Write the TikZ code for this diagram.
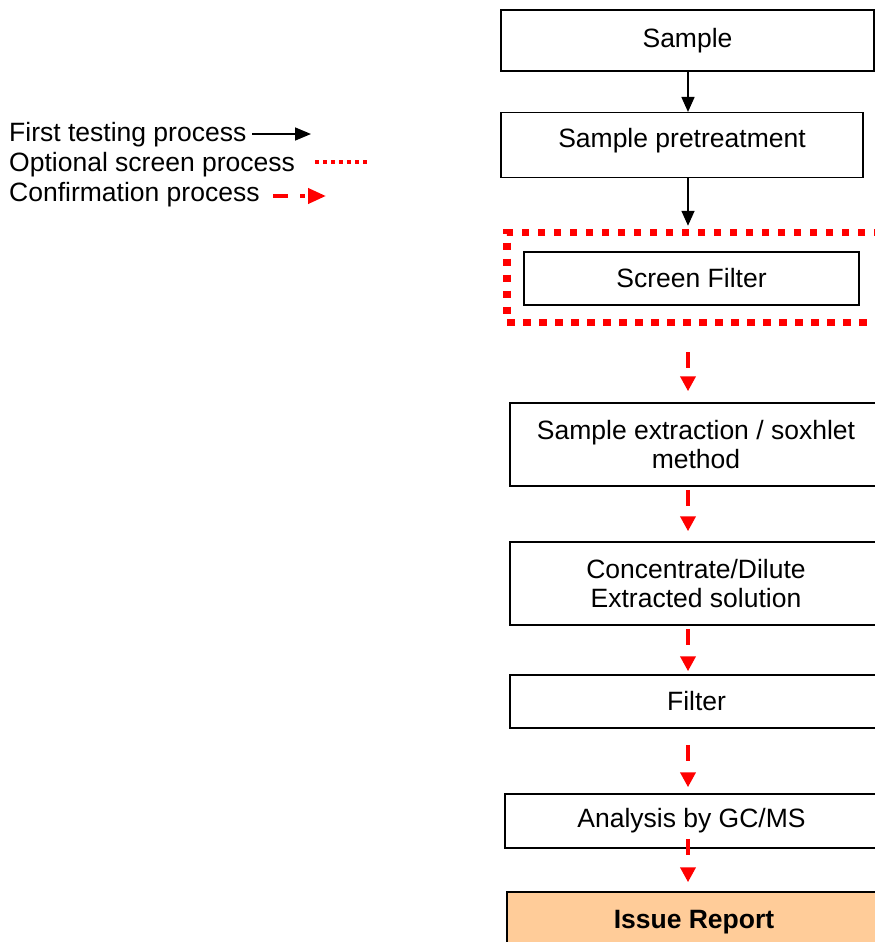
\documentclass[tikz,border=0pt]{standalone}
\usepackage{fontspec}
\setmainfont{Liberation Sans}
\usetikzlibrary{arrows.meta}
\definecolor{peach}{HTML}{FFCC99}
\tikzset{
  box/.style={draw=black, line width=1.5pt, inner sep=0pt, align=center,
    font=\fontsize{26.5}{29}\selectfont},
  lbl/.style={inner sep=0pt, font=\fontsize{26.5}{29}\selectfont},
  blackarr/.style={draw=black, line width=1.6pt, -{Triangle[length=15pt,width=13pt]}},
  redarr/.style={draw=red, line width=4.5pt, dash pattern=on 16pt off 20pt,
    -{Triangle[length=15pt,width=15pt]}},
  optframe/.style={draw=red, line width=7.5pt, dash pattern=on 7.5pt off 8.5pt,
    inner sep=0pt}
}
\begin{document}
\begin{tikzpicture}[x=1pt,y=-1pt]
\useasboundingbox (0,0) rectangle (875,942);
\clip (0,0) rectangle (875,942);
\fill[white] (0,0) rectangle (875,942);
\coordinate (col) at (688,0);

% boxes
\node[box, minimum width=373pt, minimum height=61pt] (sample) at (687.5,40.5) {Sample};
\node[box, minimum width=362pt, minimum height=65pt, text depth=15.5pt] (pre) at (682,145.2) {Sample pretreatment};
\node[optframe, minimum width=382pt, minimum height=90pt] (opt) at (698,277.5) {};
\node[box, minimum width=335pt, minimum height=53pt] (screen) at (691.5,278.5) {Screen Filter};
\node[box, minimum width=372pt, minimum height=83pt] (extr) at (696,444.5) {Sample extraction / soxhlet\\method};
\node[box, minimum width=372pt, minimum height=83pt] (conc) at (696,583.5) {Concentrate/Dilute\\Extracted solution};
\node[box, minimum width=373pt, minimum height=53pt] (filt) at (696.5,701.5) {Filter};
\node[box, minimum width=373pt, minimum height=54pt] (gcms) at (691.5,821) {Analysis by GC/MS};
\node[box, fill=peach, minimum width=374pt, minimum height=60pt, font=\fontsize{26.5}{29}\selectfont\bfseries] (report) at (694,922) {Issue Report};

% arrows
\draw[blackarr] (sample.south -| col) -- (pre.north -| col);
\draw[blackarr, shorten >=3pt] (pre.south -| col) -- (opt.north -| col);
\draw[redarr, shorten <=26pt, shorten >=11pt] (opt.south -| col) -- (extr.north -| col);
\draw[redarr, shorten <=3pt, shorten >=10pt] (extr.south -| col) -- (conc.north -| col);
\draw[redarr, shorten <=3pt, shorten >=3pt] (conc.south -| col) -- (filt.north -| col);
\draw[redarr, shorten <=16pt, shorten >=6pt] (filt.south -| col) -- (gcms.north -| col);
\draw[redarr, shorten <=-10pt, shorten >=9pt] (gcms.south -| col) -- (report.north -| col);

% legend
\node[lbl, anchor=base west] (l1) at (9,141.5) {First testing process};
\node[lbl, anchor=base west] (l2) at (9,171.7) {Optional screen process};
\node[lbl, anchor=base west] (l3) at (9,201.7) {Confirmation process};
\coordinate (l1a) at (252,134);
\coordinate (l1b) at (311,134);
\coordinate (l2a) at (315,162);
\coordinate (l2b) at (368,162);
\coordinate (l3a) at (273,196);
\coordinate (l3b) at (326,196);
\draw[draw=black, line width=1.6pt, -{Triangle[length=16pt,width=13pt]}] (l1a) -- (l1b);
\draw[draw=red, line width=4pt, dash pattern=on 4pt off 4pt] (l2a) -- (l2b);
\draw[draw=red, line width=4pt, dash pattern=on 15pt off 12pt on 5pt off 20pt,
  -{Triangle[length=18pt,width=15pt]}] (l3a) -- (l3b);
\end{tikzpicture}
\end{document}
